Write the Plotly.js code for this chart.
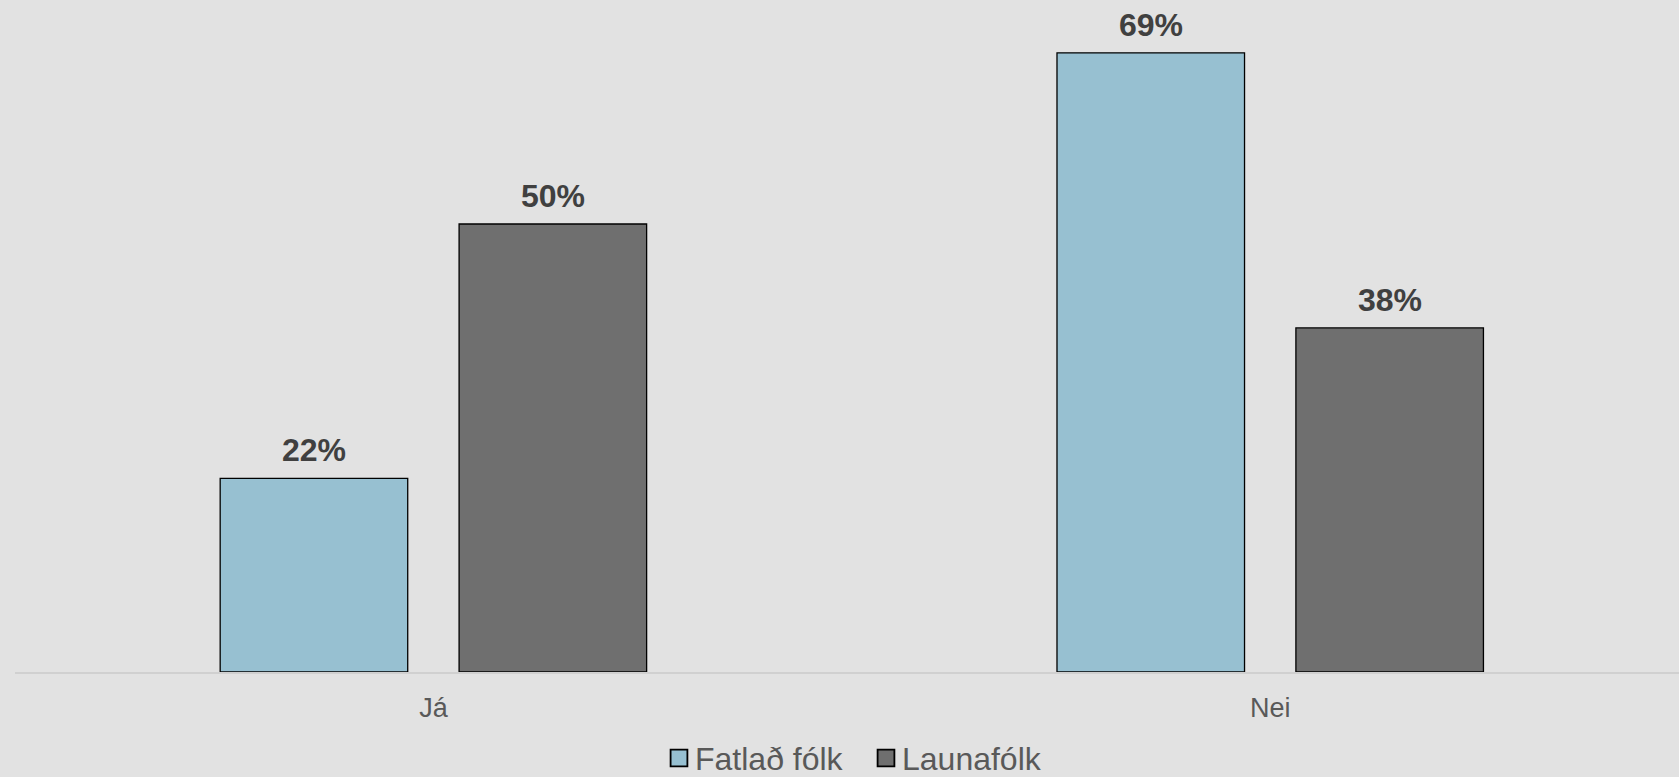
<!DOCTYPE html>
<html>
<head>
<meta charset="utf-8">
<script src="https://cdn.plot.ly/plotly-3.0.1.min.js"></script>
<style>
html,body{margin:0;padding:0;background:#e2e2e2;}
#chart{width:1679px;height:777px;}
</style>
</head>
<body>
<div id="chart"></div>
<script>
const categories = ["Já", "Nei"];
const seriesNames = ["Fatlað fólk", "Launafólk"];
const fatladFolk = [21.6, 69.1];
const launafolk = [50.0, 38.4];
const colors = ["#97c0d1", "#6f6f6f"];

const font = "Arial, 'Liberation Sans', sans-serif";
const bargap = 0.429;
const series = [fatladFolk, launafolk];

const traces = series.map((vals, i) => ({
  type: "bar",
  name: seriesNames[i],
  x: categories,
  y: vals,
  marker: {color: colors[i], line: {color: "#000000", width: 1.3}},
  hoverinfo: "skip"
}));
traces[0].legendwidth = 162;

// value labels placed above each grouped bar (offset derived from bargap)
const annotations = [];
series.forEach((vals, s) => {
  vals.forEach((v, c) => {
    annotations.push({
      xref: "x", yref: "y",
      x: c + (s - 0.5) * (1 - bargap) / 2,
      y: v,
      text: Math.round(v) + "%",
      showarrow: false,
      xanchor: "center", yanchor: "bottom",
      yshift: 8,
      font: {family: font, size: 32, color: "#404040", weight: "bold"}
    });
  });
});

const layout = {
  width: 1679,
  height: 777,
  paper_bgcolor: "#e2e2e2",
  plot_bgcolor: "#e2e2e2",
  margin: {l: 15, r: 0, t: 0, b: 105},
  barmode: "group",
  bargap: bargap,
  bargroupgap: 0.215,
  showlegend: true,
  annotations: annotations,
  legend: {
    orientation: "h",
    x: 0.5024, xanchor: "center",
    y: 0.0596, yref: "container", yanchor: "top",
    font: {family: font, size: 32, color: "#595959"},
    itemwidth: 30,
    traceorder: "normal"
  },
  xaxis: {
    range: [-0.5, 1.4885],
    automargin: false,
    showline: true,
    linecolor: "#d0d0d0",
    linewidth: 1.5,
    ticks: "outside",
    ticklen: 11,
    tickcolor: "rgba(0,0,0,0)",
    tickfont: {family: font, size: 27, color: "#595959"},
    showgrid: false,
    zeroline: false
  },
  yaxis: {
    range: [0, 75],
    visible: false,
    showgrid: false,
    zeroline: false
  }
};

Plotly.newPlot("chart", traces, layout, {staticPlot: true, displayModeBar: false}).then(gd => {
  gd.querySelectorAll(".legend .legendpoints path").forEach(p => {
    const t = p.getAttribute("transform") || "";
    p.setAttribute("transform", "translate(4,0) " + t + " scale(1.4)");
  });
});
</script>
</body>
</html>
